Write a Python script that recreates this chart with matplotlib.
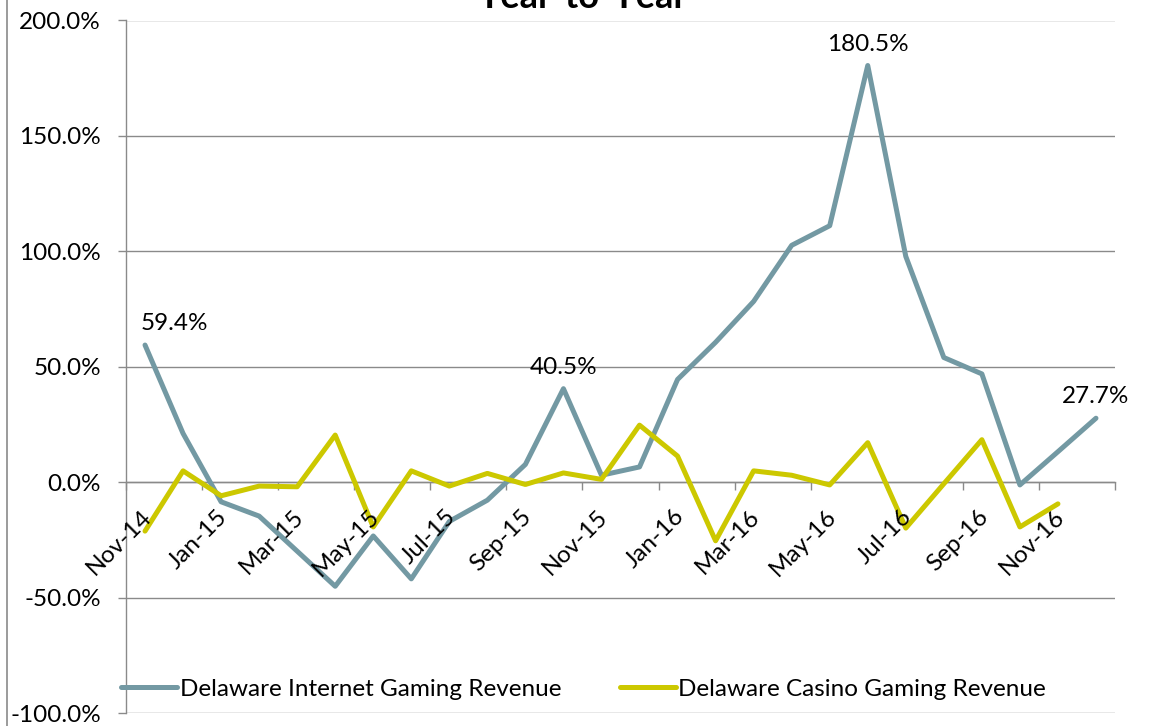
import matplotlib
matplotlib.use("Agg")
import matplotlib.pyplot as plt
from matplotlib.lines import Line2D
from matplotlib.ticker import FixedLocator, PercentFormatter
from matplotlib.transforms import ScaledTranslation

plt.rcParams['font.family'] = ['Lato', 'DejaVu Sans']
plt.rcParams['axes.unicode_minus'] = False

# monthly year-over-year change, Nov-14 .. Dec-16
months = ['Nov-14', 'Dec-14', 'Jan-15', 'Feb-15', 'Mar-15', 'Apr-15', 'May-15',
          'Jun-15', 'Jul-15', 'Aug-15', 'Sep-15', 'Oct-15', 'Nov-15', 'Dec-15',
          'Jan-16', 'Feb-16', 'Mar-16', 'Apr-16', 'May-16', 'Jun-16', 'Jul-16',
          'Aug-16', 'Sep-16', 'Oct-16', 'Nov-16', 'Dec-16']
internet = [59.4, 21.1, -8.5, -14.7, -29.9, -45.1, -23.3, -41.9, -17.0, -7.8,
            7.7, 40.5, 3.0, 6.6, 44.5, 60.6, 78.3, 102.6, 111.1, 180.5, 97.8,
            54.0, 46.9, -1.2, 13.2, 27.7]
casino = [-21.2, 4.9, -5.9, -1.7, -2.0, 20.4, -19.4, 4.9, -1.7, 3.8, -1.0,
          4.0, 1.2, 24.7, 11.3, -25.4, 4.9, 3.0, -1.2, 17.1, -19.9, -0.7,
          18.4, -19.4, -9.4]
labeled = [0, 11, 19, 25]   # points that carry a value label

c_net = '#7399A3'
c_cas = '#CCC800'
grey = '#8A8A8A'
fs = 17.5

fig = plt.figure(figsize=(11.56, 7.26), dpi=100)
ax = fig.add_axes([126 / 1156, 13 / 726, 989 / 1156, 692.5 / 726])

x_net = list(range(len(internet)))
x_cas = list(range(len(casino)))
ax.plot(x_net, internet, color=c_net, lw=3.6, solid_joinstyle='round',
        solid_capstyle='round', label='Delaware Internet Gaming Revenue', zorder=3)
ax.plot(x_cas, casino, color=c_cas, lw=3.6, solid_joinstyle='round',
        solid_capstyle='round', label='Delaware Casino Gaming Revenue', zorder=3)

for i in labeled:
    dx = 29 if i == 0 else 0
    ax.annotate(f'{internet[i]:.1f}%', xy=(i, internet[i]), xytext=(dx, 15),
                textcoords='offset pixels', ha='center', va='baseline',
                fontsize=fs, color='black', zorder=4)

ax.set_xlim(-0.5, len(months) - 0.5)
ax.set_ylim(-100, 200)
ax.yaxis.set_major_locator(FixedLocator([-100, -50, 0, 50, 100, 150, 200]))
ax.yaxis.set_major_formatter(PercentFormatter(decimals=1))
ax.grid(axis='y', color=grey, lw=1.0)
ax.set_axisbelow(True)
ax.tick_params(axis='y', direction='out', length=6, width=1.0, color=grey,
               labelsize=fs, pad=12)

# category axis sits on the zero line, ticks between every other month
for s in ['top', 'right']:
    ax.spines[s].set_visible(False)
ax.spines['left'].set_color(grey)
ax.spines['left'].set_linewidth(1.0)
ax.spines['bottom'].set_position(('data', 0))
ax.spines['bottom'].set_color(grey)
ax.spines['bottom'].set_linewidth(1.0)
ax.xaxis.set_major_locator(FixedLocator([k - 0.5 for k in range(0, len(months) + 1, 2)]))
ax.tick_params(axis='x', direction='out', length=6, width=1.0, color=grey,
               labelbottom=False)

off = ScaledTranslation(3 / 100, -31 / 100, fig.dpi_scale_trans)
for i in range(0, len(months), 2):
    ax.text(i, 0, months[i], transform=ax.transData + off, rotation=45,
            rotation_mode='anchor', ha='right', va='center', fontsize=fs)

ax.legend(loc='center left', bbox_to_anchor=(121 / 1156, 1 - 689 / 726),
          bbox_transform=fig.transFigure, ncol=2, frameon=False, fontsize=fs,
          handlelength=2.3, handletextpad=0.12, columnspacing=2.4,
          borderpad=0, borderaxespad=0)

fig.text(582 / 1156, 1 - 8 / 726, 'Year-to-Year', ha='center', va='baseline',
         fontsize=26, fontweight='bold')
fig.add_artist(Line2D([7 / 1156, 7 / 1156], [0, 1], color=grey, lw=1.2))

fig.savefig('out.png', dpi=100)
